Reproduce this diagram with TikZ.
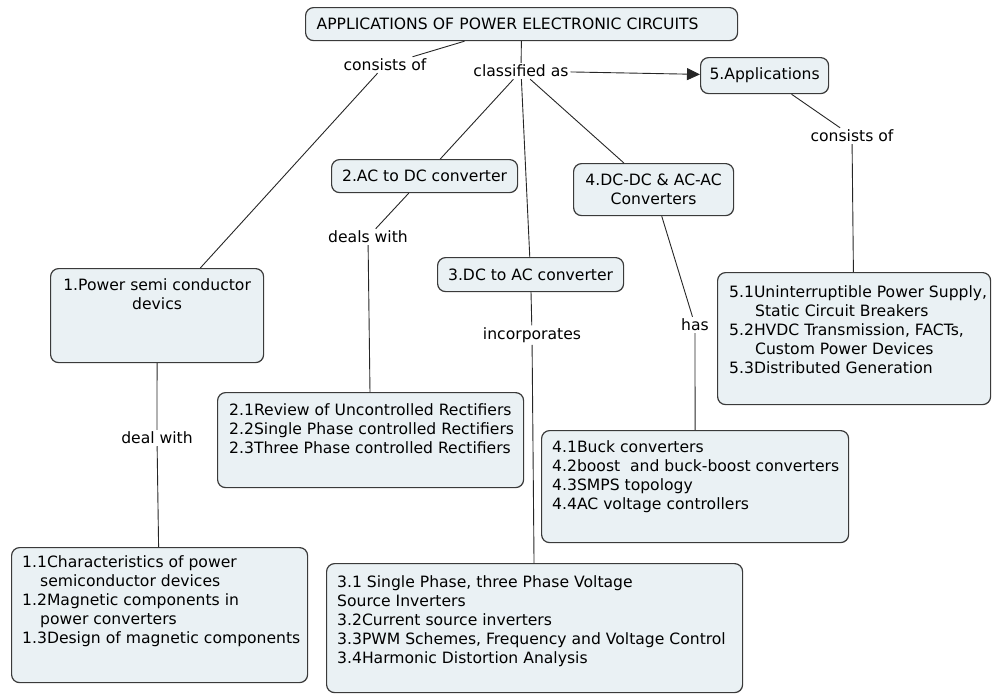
\documentclass[tikz,border=0pt]{standalone}
\usepackage{fontspec}
\setmainfont{DejaVu Sans}
\usepackage{tikz}
\usetikzlibrary{arrows.meta, positioning}
\usepackage{xcolor}
\definecolor{conceptfill}{HTML}{EAF1F4}
\definecolor{conceptline}{HTML}{3A3A3A}
\definecolor{linkcolor}{HTML}{262626}

\begin{document}
\begin{tikzpicture}[
    x=1pt, y=-1pt,
    font=\fontsize{15.6}{19}\selectfont,
    concept/.style={draw=conceptline, line width=1.2pt, rounded corners=8pt,
                    fill=conceptfill, anchor=north west, align=center},
    items/.style={align=left, inner sep=0pt, anchor=north west},
    phrase/.style={inner sep=2pt},
    link/.style={draw=linkcolor, line width=0.9pt},
    arrow/.style={link, -{Triangle[length=13pt, width=12pt]}}
]
\useasboundingbox (0,0) rectangle (992,694);

% --- Concepts ---
\node[concept, text width=410pt, inner xsep=11pt, minimum height=33pt,
      align=left] (root) at (305,7) {APPLICATIONS OF POWER ELECTRONIC CIRCUITS};
\node[concept, minimum width=128pt, minimum height=36pt] (apps) at (700,57) {5.Applications};
\node[concept, minimum width=213pt, minimum height=94pt] (devices) at (50,268) {};
\node[concept, minimum width=186pt, minimum height=33pt] (acdc) at (331,159) {2.AC to DC converter};
\node[concept, minimum width=186pt, minimum height=34pt] (dcac) at (437,257) {3.DC to AC converter};
\node[concept, minimum width=160pt, minimum height=52pt] (dcdc) at (573,163)
     {4.DC-DC \& AC-AC\\Converters};

% --- Lists ---
\node[concept, minimum width=296pt, minimum height=135pt] (devlist) at (11,547) {};
\node[concept, minimum width=306pt, minimum height=95pt] (acdclist) at (217,392) {};
\node[concept, minimum width=416pt, minimum height=129pt] (dcaclist) at (326,563) {};
\node[concept, minimum width=307pt, minimum height=112pt] (dcdclist) at (541,430) {};
\node[concept, minimum width=273pt, minimum height=132pt] (applist) at (717,272) {};

\node[items, align=center, below=8.7pt of devices.north] (devtxt)
     {\strut 1.Power semi conductor\\devics};
\node[items, below right=6.7pt and 11pt of devlist.north west] (devlisttxt)
     {\strut 1.1Characteristics of power\\\hspace*{18pt}semiconductor devices\\
      1.2Magnetic components in\\\hspace*{18pt}power converters\\
      1.3Design of magnetic components};
\node[items, below right=9.7pt and 12pt of acdclist.north west] (acdclisttxt)
     {\strut 2.1Review of Uncontrolled Rectifiers\\2.2Single Phase controlled Rectifiers\\
      2.3Three Phase controlled Rectifiers};
\node[items, below right=10.7pt and 11pt of dcaclist.north west] (dcaclisttxt)
     {\strut 3.1 Single Phase, three Phase Voltage\\Source Inverters\\
      3.2Current source inverters\\3.3PWM Schemes, Frequency and Voltage Control\\
      3.4Harmonic Distortion Analysis};
\node[items, below right=8.7pt and 11pt of dcdclist.north west] (dcdclisttxt)
     {\strut 4.1Buck converters\\4.2boost\ \ and buck-boost converters\\
      4.3SMPS topology\\4.4AC voltage controllers};
\node[items, below right=11.7pt and 12pt of applist.north west] (applisttxt)
     {\strut 5.1Uninterruptible Power Supply,\\\hspace*{26pt}Static Circuit Breakers\\
      5.2HVDC Transmission, FACTs,\\\hspace*{26pt}Custom Power Devices\\
      5.3Distributed Generation};

% --- Linking phrases ---
\node[phrase] (consists) at (385,65) {consists of};
\node[phrase] (classified) at (521,71) {classified as};
\node[phrase] (consistsapp) at (852,136) {consists of};
\node[phrase] (dealswith) at (368,237) {deals with};
\node[phrase] (incorporates) at (532,335) {incorporates};
\node[phrase] (has) at (695,325) {has};
\node[phrase] (dealwith) at (157,438) {deal with};

\draw[link] (root) -- (consists);
\draw[link] (consists) -- (devices);
\draw[link] (root) -- (classified);
\draw[link] (classified) -- (acdc);
\draw[link] (classified) -- (dcac);
\draw[link] (classified) -- (dcdc);
\draw[arrow] (classified) -- (apps);
\draw[link] (apps) -- (consistsapp);
\draw[link] (consistsapp) -- (applist);
\draw[link] (acdc) -- (dealswith);
\draw[link] (dealswith) -- (acdclist);
\draw[link] (dcac) -- (incorporates);
\draw[link] (incorporates) -- (dcaclist);
\draw[link] (dcdc) -- (has);
\draw[link] (has) -- (dcdclist);
\draw[link] (devices) -- (dealwith);
\draw[link] (dealwith) -- (devlist);

\end{tikzpicture}
\end{document}
